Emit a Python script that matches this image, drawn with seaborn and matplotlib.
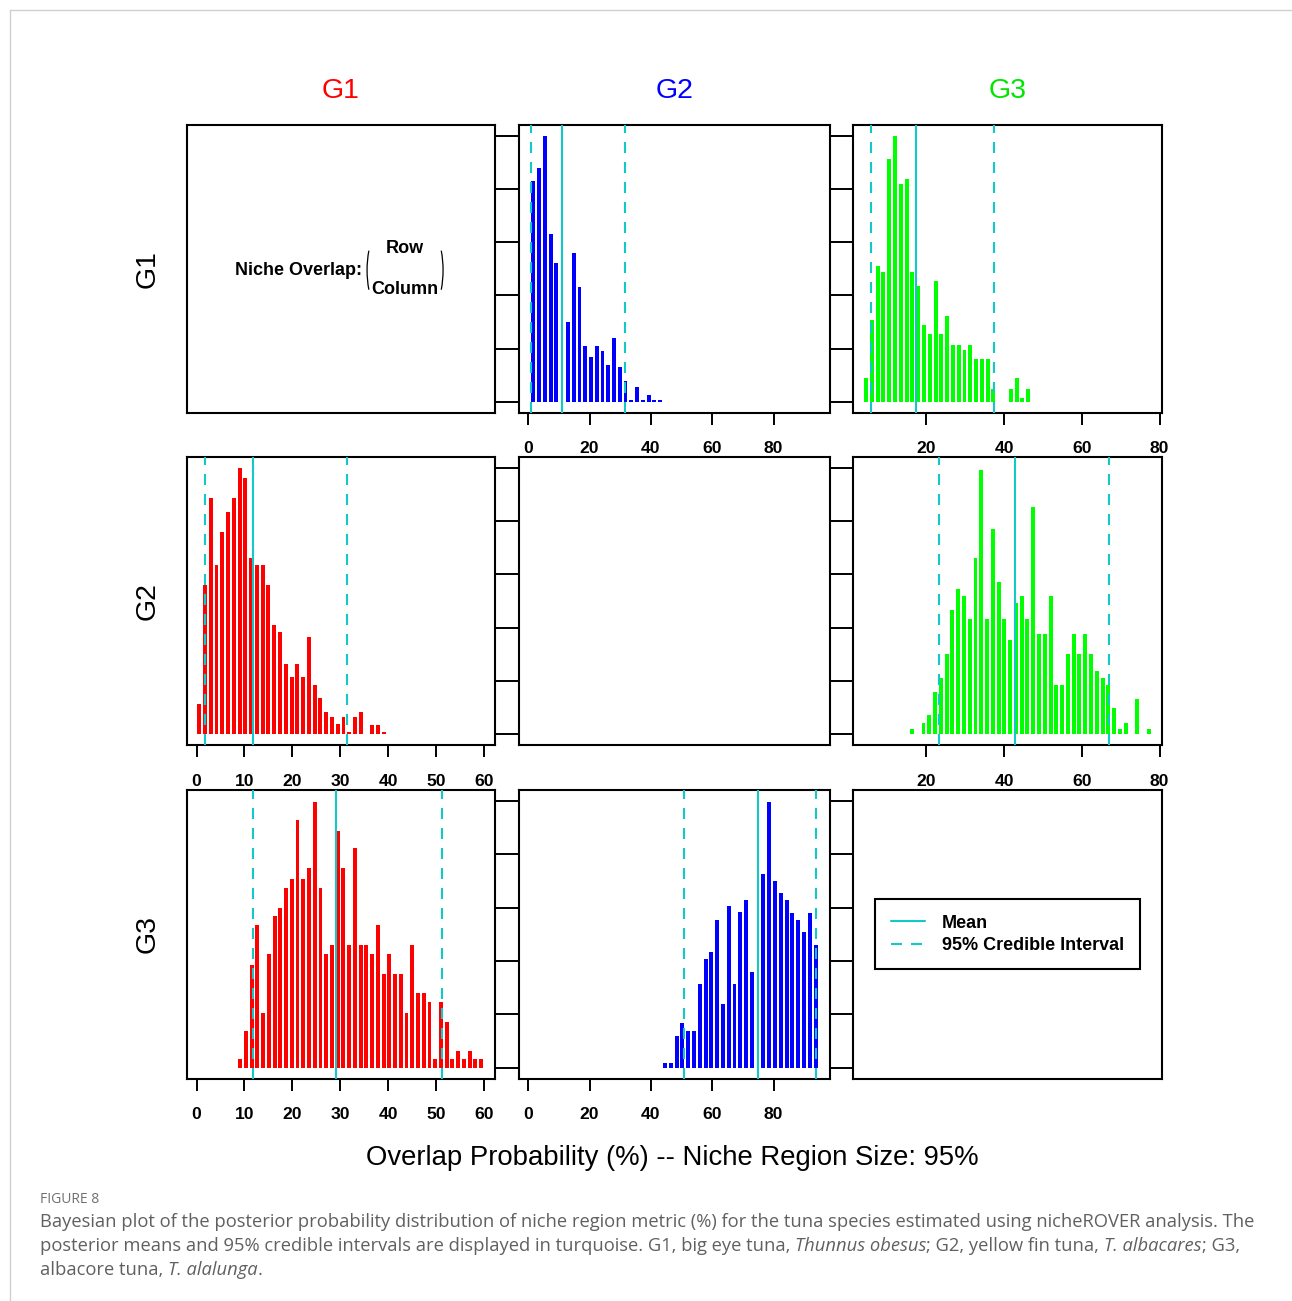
import numpy as np
import matplotlib
matplotlib.use("Agg")
import matplotlib.pyplot as plt
import seaborn as sns
from matplotlib.lines import Line2D
from matplotlib.patches import Arc

sns.set_style("white")
plt.rcParams["font.family"] = ["Liberation Sans", "DejaVu Sans"]
plt.rcParams["text.color"] = "black"
plt.rcParams["axes.labelcolor"] = "black"
plt.rcParams["xtick.color"] = "black"
plt.rcParams["ytick.color"] = "black"

groups = ["G1", "G2", "G3"]
bar_colors = ["#FF0000", "#0000FF", "#00FF00"]
title_colors = ["#FF0000", "#0000FF", "#00E600"]
cred_color = "#12C8C8"

col_ticks = [[0, 10, 20, 30, 40, 50, 60], [0, 20, 40, 60, 80], [20, 40, 60, 80]]
col_xlim = [(-2.0, 62.3), (-3.0, 98.4), (1.15, 80.6)]

# posterior overlap histograms: bin centres (%), relative density, (mean, lower, upper)
# row G1 / column G2
g1_g2_x = [1.7, 3.6, 5.5, 7.3, 9.2, 11.1, 13.0, 14.8, 16.7, 18.6, 20.5, 22.3, 24.2,
           26.1, 28.0, 29.8, 31.7, 33.6, 35.5, 37.3, 39.2, 41.1, 43.0]
g1_g2_h = [0.83, 0.88, 1.0, 0.63, 0.52, 0.0, 0.30, 0.56, 0.43, 0.21, 0.17, 0.21, 0.19,
           0.14, 0.24, 0.13, 0.08, 0.008, 0.054, 0.008, 0.026, 0.008, 0.008]
g1_g2_stats = (11.1, 1.0, 31.4)

# row G1 / column G3
g1_g3_x = [4.5, 6.0, 7.5, 9.0, 10.5, 11.9, 13.4, 14.9, 16.4, 17.9, 19.4, 20.9, 22.4,
           23.9, 25.4, 26.8, 28.3, 29.8, 31.3, 32.8, 34.3, 35.8, 37.3, 38.8, 40.3,
           41.7, 43.2, 44.7, 46.2]
g1_g3_h = [0.088, 0.308, 0.509, 0.488, 0.912, 1.0, 0.818, 0.836, 0.488, 0.435, 0.288,
           0.255, 0.455, 0.255, 0.321, 0.214, 0.214, 0.194, 0.214, 0.16, 0.16, 0.16,
           0.047, 0.0, 0.0, 0.047, 0.088, 0.013, 0.047]
g1_g3_stats = (17.3, 5.9, 37.4)

# row G2 / column G1
g2_g1_x = [0.55, 1.75, 2.95, 4.2, 5.4, 6.6, 7.8, 9.0, 10.2, 11.4, 12.6, 13.8, 15.0,
           16.2, 17.4, 18.6, 19.8, 21.0, 22.2, 23.4, 24.6, 25.9, 27.1, 28.3, 29.5,
           30.7, 31.9, 33.1, 34.3, 35.5, 36.7, 37.9, 39.1]
g2_g1_h = [0.112, 0.561, 0.888, 0.635, 0.759, 0.833, 0.888, 1.0, 0.96, 0.663, 0.635,
           0.635, 0.561, 0.411, 0.383, 0.263, 0.214, 0.263, 0.214, 0.364, 0.186, 0.138,
           0.084, 0.064, 0.038, 0.064, 0.01, 0.064, 0.084, 0.0, 0.036, 0.036, 0.01]
g2_g1_stats = (11.8, 1.7, 31.3)

# row G2 / column G3
g2_g3_x = [16.3, 17.8, 19.3, 20.75, 22.2, 23.7, 25.2, 26.7, 28.2, 29.7, 31.1, 32.6,
           34.1, 35.6, 37.1, 38.6, 40.0, 41.5, 43.0, 44.5, 46.0, 47.5, 49.0, 50.4,
           51.9, 53.4, 54.9, 56.4, 57.9, 59.4, 60.8, 62.3, 63.8, 65.3, 66.8, 68.3,
           69.8, 71.2, 72.7, 74.2, 75.7, 77.2]
g2_g3_h = [0.019, 0.0, 0.044, 0.071, 0.16, 0.211, 0.30, 0.465, 0.546, 0.519, 0.431,
           0.66, 0.991, 0.431, 0.771, 0.573, 0.431, 0.353, 0.493, 0.519, 0.431, 0.853,
           0.378, 0.378, 0.519, 0.185, 0.185, 0.30, 0.378, 0.30, 0.378, 0.30, 0.238,
           0.211, 0.185, 0.098, 0.019, 0.044, 0.0, 0.131, 0.0, 0.019]
g2_g3_stats = (42.9, 23.25, 67.0)

# row G3 / column G1
g3_g1_x = [9.1, 10.3, 11.5, 12.7, 13.9, 15.1, 16.3, 17.5, 18.7, 19.9, 21.1, 22.3, 23.5,
           24.7, 25.9, 27.1, 28.3, 29.5, 30.6, 31.8, 33.0, 34.2, 35.4, 36.6, 37.8,
           39.0, 40.2, 41.4, 42.6, 43.8, 45.0, 46.2, 47.4, 48.6, 49.8, 51.0, 52.2,
           53.4, 54.6, 55.8, 57.0, 58.2, 59.4]
g3_g1_h = [0.033, 0.139, 0.386, 0.533, 0.207, 0.426, 0.568, 0.599, 0.674, 0.708, 0.929,
           0.708, 0.747, 0.996, 0.674, 0.427, 0.46, 0.887, 0.747, 0.46, 0.822, 0.46,
           0.46, 0.427, 0.533, 0.353, 0.427, 0.353, 0.353, 0.207, 0.46, 0.279, 0.279,
           0.246, 0.033, 0.246, 0.173, 0.033, 0.064, 0.033, 0.064, 0.033, 0.033]
g3_g1_stats = (29.1, 11.8, 51.3)

# row G3 / column G2
g3_g2_x = [44.6, 46.5, 48.4, 50.3, 52.2, 54.0, 55.9, 57.8, 59.7, 61.6, 63.5, 65.4, 67.2,
           69.1, 71.0, 72.9, 74.8, 76.7, 78.6, 80.5, 82.3, 84.2, 86.1, 88.0, 89.9,
           91.8, 93.7]
g3_g2_h = [0.018, 0.018, 0.118, 0.166, 0.138, 0.138, 0.312, 0.408, 0.433, 0.555, 0.24,
           0.607, 0.312, 0.582, 0.627, 0.359, 0.0, 0.726, 0.996, 0.699, 0.655, 0.627,
           0.58, 0.555, 0.507, 0.58, 0.46]
g3_g2_stats = (75.0, 50.7, 93.7)

panels = {
    (0, 1): (g1_g2_x, g1_g2_h, g1_g2_stats),
    (0, 2): (g1_g3_x, g1_g3_h, g1_g3_stats),
    (1, 0): (g2_g1_x, g2_g1_h, g2_g1_stats),
    (1, 2): (g2_g3_x, g2_g3_h, g2_g3_stats),
    (2, 0): (g3_g1_x, g3_g1_h, g3_g1_stats),
    (2, 1): (g3_g2_x, g3_g2_h, g3_g2_stats),
}

W, H = 1292, 1301
fig = plt.figure(figsize=(W / 100, H / 100), dpi=100)

col_px = [(187, 495), (519, 830), (853, 1162)]
row_px = [(125, 412.5), (457, 745), (790, 1078.5)]
dash = (0, (5.3, 4.3))

for i in range(3):
    for j in range(3):
        x0, x1 = col_px[j]
        y0, y1 = row_px[i]
        ax = fig.add_axes([x0 / W, 1 - y1 / H, (x1 - x0) / W, (y1 - y0) / H])

        if (i, j) in panels:
            xs, hs, (m, lo, hi) = panels[(i, j)]
            w = (xs[-1] - xs[0]) / (len(xs) - 1)
            sns.histplot(x=xs, weights=hs, bins=len(xs),
                         binrange=(xs[0] - w / 2, xs[-1] + w / 2), shrink=0.68,
                         color=bar_colors[j], alpha=1, linewidth=0, ax=ax)
            ax.axvline(m, color=cred_color, lw=1.5, zorder=3)
            ax.axvline(lo, color=cred_color, lw=1.5, ls=dash, zorder=3)
            ax.axvline(hi, color=cred_color, lw=1.5, ls=dash, zorder=3)
            ax.set_xticks(col_ticks[j])
            ax.tick_params(axis="x", bottom=True, length=8.3, width=1.4, pad=12.5,
                           labelsize=12.6, direction="out", colors="black")
            for lab in ax.get_xticklabels():
                lab.set_fontweight("bold")
        else:
            ax.set_xticks([])

        ax.set_xlabel("")
        ax.set_ylabel("")
        ax.set_xlim(*col_xlim[j])
        ax.set_ylim(-0.04, 1.04)
        ax.set_yticks([0, 0.2, 0.4, 0.6, 0.8, 1.0])
        ax.tick_params(axis="y", left=(j > 0), right=False, labelleft=False,
                       length=17.3, width=1.4, direction="out", colors="black")
        for sp in ax.spines.values():
            sp.set_visible(True)
            sp.set_color("black")
            sp.set_linewidth(1.5)

        if i == 0:
            ax.text(0.5, 1 + (y0 - 97.5) / (y1 - y0), groups[j], transform=ax.transAxes,
                    ha="center", va="baseline", fontsize=20.5, color=title_colors[j])
        if j == 0:
            ax.text((148 - x0) / (x1 - x0), 0.5, groups[i], transform=ax.transAxes,
                    ha="center", va="center", rotation=90, fontsize=20.5, color="black")

        if (i, j) == (0, 0):
            ax.text(0.568, 0.495, "Niche Overlap:", transform=ax.transAxes, ha="right",
                    va="center", fontsize=13, fontweight="bold")
            ax.text(0.708, 0.571, "Row", transform=ax.transAxes, ha="center",
                    va="center", fontsize=13, fontweight="bold")
            ax.text(0.708, 0.429, "Column", transform=ax.transAxes, ha="center",
                    va="center", fontsize=13, fontweight="bold")
            ew, eh = 76 / (x1 - x0), 128 / (y1 - y0)
            ax.add_patch(Arc((0.708, 0.495), ew, eh, theta1=150, theta2=210,
                             transform=ax.transAxes, color="black", lw=0.9))
            ax.add_patch(Arc((0.708, 0.495), ew, eh, theta1=-30, theta2=30,
                             transform=ax.transAxes, color="black", lw=0.9))

        if (i, j) == (2, 2):
            handles = [Line2D([], [], color=cred_color, lw=1.5),
                       Line2D([], [], color=cred_color, lw=1.5, ls=dash)]
            leg = ax.legend(handles, ["Mean", "95% Credible Interval"], loc="center",
                            bbox_to_anchor=(0.5, 0.5), frameon=True, fancybox=False,
                            framealpha=1, edgecolor="black", handlelength=1.9,
                            handletextpad=0.95, borderpad=0.85, labelspacing=0.3,
                            prop={"size": 13, "weight": "bold"})
            leg.get_frame().set_linewidth(1.5)

fig.text(672 / W, 1 - 1165 / H, "Overlap Probability (%) -- Niche Region Size: 95%",
         ha="center", va="baseline", fontsize=19.8, color="black")

# outer frame of the figure page
fig.add_artist(Line2D([10 / W, 1], [1 - 10 / H, 1 - 10 / H], transform=fig.transFigure,
                      color="#d0d0d0", lw=1))
fig.add_artist(Line2D([10 / W, 10 / W], [0, 1 - 10 / H], transform=fig.transFigure,
                      color="#d0d0d0", lw=1))

# caption
renderer = fig.canvas.get_renderer()
cap_font = ["Open Sans", "DejaVu Sans"]


def text_width(s, **kw):
    t = fig.text(0, 0, s + "x", **kw)
    t2 = fig.text(0, 0, "x", **kw)
    w = t.get_window_extent(renderer).width - t2.get_window_extent(renderer).width
    t.remove()
    t2.remove()
    return w


def draw_runs(x_px, y_px, runs, **kw):
    x = x_px
    for s, it in runs:
        style = "italic" if it else "normal"
        fig.text(x / W, 1 - y_px / H, s, style=style, va="baseline", **kw)
        x += text_width(s, style=style, **kw)


line1 = ("Bayesian plot of the posterior probability distribution of niche region metric (%) "
         "for the tuna species estimated using nicheROVER analysis. The")
base = 13
wd = text_width(line1, family=cap_font, fontsize=base)
cap_size = base * 1206 / wd
cap_kw = dict(family=cap_font, fontsize=cap_size, color="#606060")

fig.text(40 / W, 1 - 1203 / H, "FIGURE 8", va="baseline", family=cap_font,
         fontsize=10, color="#707070")
draw_runs(40, 1227, [(line1, False)], **cap_kw)
draw_runs(40, 1251, [("posterior means and 95% credible intervals are displayed in turquoise. "
                      "G1, big eye tuna, ", False), ("Thunnus obesus", True),
                     ("; G2, yellow fin tuna, ", False), ("T. albacares", True),
                     ("; G3,", False)], **cap_kw)
draw_runs(40, 1275, [("albacore tuna, ", False), ("T. alalunga", True), (".", False)],
          **cap_kw)

fig.savefig("out.png", dpi=100)
